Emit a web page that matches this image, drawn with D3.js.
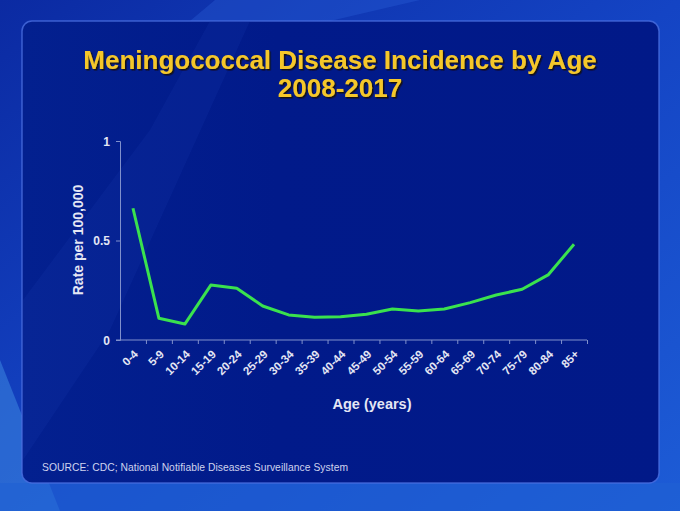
<!DOCTYPE html>
<html>
<head>
<meta charset="utf-8">
<script src="https://cdn.jsdelivr.net/npm/d3@7"></script>
<style>
  body { margin: 0; background: #1446c8; }
  svg { display: block; font-family: "Liberation Sans", Arial, sans-serif; }
</style>
</head>
<body>
<script>
// age groups and incidence rate per 100,000
const ageGroups = ["0-4","5-9","10-14","15-19","20-24","25-29","30-34","35-39","40-44",
                   "45-49","50-54","55-59","60-64","65-69","70-74","75-79","80-84","85+"];
const rates = [0.662, 0.109, 0.080, 0.276, 0.260, 0.171, 0.126, 0.114, 0.117,
               0.129, 0.156, 0.146, 0.156, 0.188, 0.226, 0.255, 0.327, 0.481];
const yTicks = [0, 0.5, 1];

const width = 680, height = 511;
const svg = d3.select("body").append("svg")
  .attr("width", width)
  .attr("height", height);

const defs = svg.append("defs");
const bg = defs.append("linearGradient").attr("id", "bg")
  .attr("x1", "0").attr("y1", "0").attr("x2", "1").attr("y2", "1");
bg.append("stop").attr("offset", "0").attr("stop-color", "#0b2aa2");
bg.append("stop").attr("offset", "0.5").attr("stop-color", "#1444c4");
bg.append("stop").attr("offset", "1").attr("stop-color", "#1d5cd6");

const panelGrad = defs.append("linearGradient").attr("id", "panel")
  .attr("x1", "0").attr("y1", "0").attr("x2", "1").attr("y2", "0");
panelGrad.append("stop").attr("offset", "0").attr("stop-color", "#03208f");
panelGrad.append("stop").attr("offset", "0.4").attr("stop-color", "#011a8a");
panelGrad.append("stop").attr("offset", "1").attr("stop-color", "#011988");

// shadow for the title
const shadow = defs.append("filter").attr("id", "shadow")
  .attr("x", "-5%").attr("y", "-20%").attr("width", "110%").attr("height", "150%");
shadow.append("feDropShadow").attr("dx", 1.5).attr("dy", 1.5).attr("stdDeviation", 0.6)
  .attr("flood-color", "#120e00").attr("flood-opacity", 0.85);

// background
svg.append("rect").attr("width", width).attr("height", height).attr("fill", "url(#bg)");
// light streaks
svg.append("path").attr("d", "M0,360 L60,511 L0,511 Z").attr("fill", "#3d86e0").attr("opacity", 0.55);
svg.append("path").attr("d", "M0,483 L680,483 L680,511 L0,511 Z").attr("fill", "#1f60d4").attr("opacity", 0.6);
svg.append("path").attr("d", "M215,0 L420,0 L330,21 L190,21 Z").attr("fill", "#2a62da").attr("opacity", 0.35);

// panel
svg.append("rect")
  .attr("x", 22).attr("y", 21).attr("width", 637).attr("height", 462)
  .attr("rx", 10).attr("ry", 10)
  .attr("fill", "url(#panel)")
  .attr("stroke", "#4a6ee0").attr("stroke-width", 1.5).attr("stroke-opacity", 0.8);
svg.append("path").attr("d", "M23,300 L150,130 L210,21 L250,21 L110,330 L23,460 Z")
  .attr("fill", "#1a3cb0").attr("opacity", 0.18);

// title
const title = [["Meningococcal Disease Incidence by Age", 69], ["2008-2017", 97]];
title.forEach(([t, yy]) => {
  svg.append("text").attr("x", 340).attr("y", yy).attr("text-anchor", "middle")
    .attr("font-size", 26).attr("font-weight", "bold").attr("fill", "#f5c72c")
    .attr("filter", "url(#shadow)")
    .text(t);
});

// scales
const x = d3.scaleBand().domain(ageGroups).range([120, 587]);
const xEdge = d3.scaleLinear().domain([0, ageGroups.length]).range([120, 587]);
const y = d3.scaleLinear().domain([0, 1]).range([340, 141]);

const axisColor = "#8090cc";
const labelColor = "#e4e6f4";

// y axis
const yAxis = svg.append("g").attr("transform", "translate(120,0)")
  .call(d3.axisLeft(y).tickValues(yTicks).tickSize(4).tickFormat(d => d));
yAxis.select(".domain").attr("stroke", axisColor);
yAxis.selectAll(".tick line").attr("stroke", axisColor);
yAxis.selectAll(".tick text").attr("fill", labelColor).attr("font-size", 12)
  .attr("font-weight", "bold").attr("x", -10).attr("dy", "0.35em");

// x axis (ticks at category boundaries)
const xAxis = svg.append("g").attr("transform", "translate(0,340)")
  .call(d3.axisBottom(xEdge).tickValues(d3.range(1, ageGroups.length + 1)).tickSize(4).tickFormat(""));
xAxis.select(".domain").attr("stroke", axisColor).attr("d", "M116,0H587");
xAxis.selectAll(".tick line").attr("stroke", axisColor);

// x tick labels
svg.append("g").selectAll("text")
  .data(ageGroups)
  .join("text")
  .attr("transform", d => `translate(${x(d) + x.bandwidth() / 2 + 3},${352}) rotate(-45)`)
  .attr("text-anchor", "end")
  .attr("dy", "0.35em")
  .attr("font-size", 11.5).attr("font-weight", "bold")
  .attr("fill", labelColor)
  .text(d => d);

// line
const line = d3.line()
  .x((d, i) => x(ageGroups[i]) + x.bandwidth() / 2)
  .y(d => y(d));
svg.append("path").datum(rates)
  .attr("d", line)
  .attr("fill", "none")
  .attr("stroke", "#3ae24e")
  .attr("stroke-width", 3)
  .attr("stroke-linejoin", "round");

// axis titles
svg.append("text")
  .attr("transform", "translate(83,240) rotate(-90)")
  .attr("text-anchor", "middle")
  .attr("font-size", 14).attr("font-weight", "bold").attr("fill", labelColor)
  .text("Rate per 100,000");
svg.append("text")
  .attr("x", 372).attr("y", 409)
  .attr("text-anchor", "middle")
  .attr("font-size", 14.5).attr("font-weight", "bold").attr("fill", labelColor)
  .text("Age (years)");

// source
svg.append("text")
  .attr("x", 42).attr("y", 471)
  .attr("font-size", 10.3).attr("fill", "#cfd3ee")
  .attr("textLength", 306).attr("lengthAdjust", "spacing")
  .text("SOURCE: CDC; National Notifiable Diseases Surveillance System");
</script>
</body>
</html>
